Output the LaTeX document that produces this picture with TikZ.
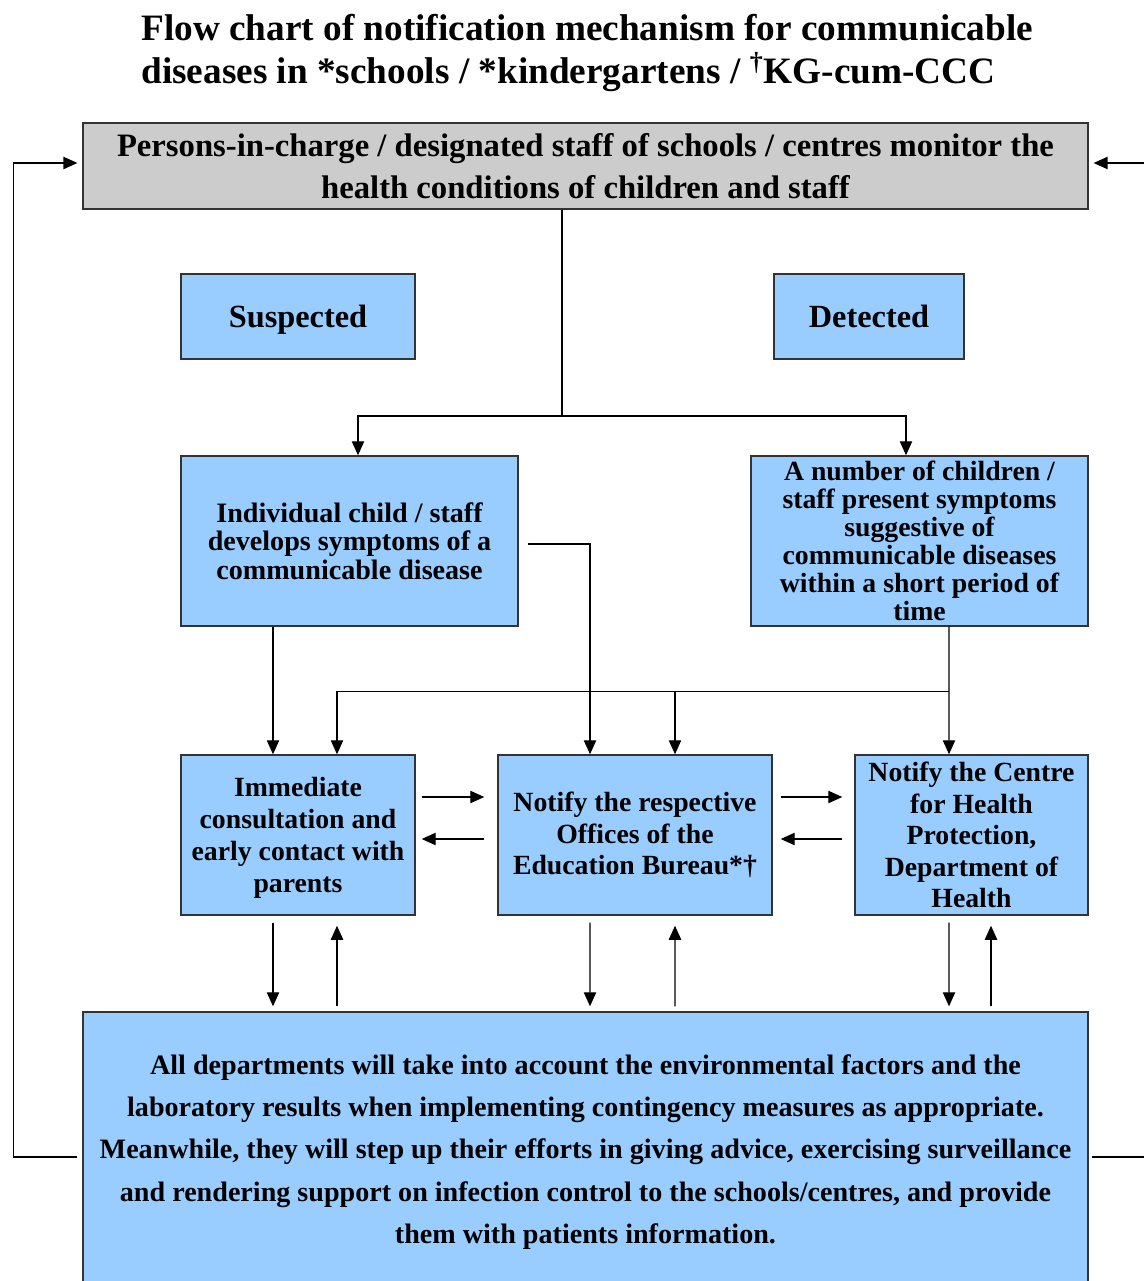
\documentclass[tikz,border=0pt]{standalone}
\usepackage{fontspec}
\setmainfont{Liberation Serif}
\usetikzlibrary{arrows.meta,calc}

\definecolor{boxblue}{HTML}{99CCFF}
\definecolor{boxgray}{HTML}{CCCCCC}

\tikzset{
  box/.style={draw=black!80, line width=0.8pt, fill=boxblue, align=center, inner sep=2pt},
  arr/.style={-{Triangle[length=8pt,width=7pt]}, line width=0.8pt},
  link/.style={line width=0.8pt},
}

\begin{document}
\begin{tikzpicture}[x=0.02cm, y=-0.02cm]
    \useasboundingbox (0,0) rectangle (1143,1281);

    % Title
    \node[anchor=west, align=left, inner sep=0pt, font=\fontsize{21.2}{24.4}\selectfont\bfseries] (title) at (141,53)
        {Flow chart of notification mechanism for communicable\\diseases in *schools / *kindergartens / \textsuperscript{†}KG-cum-CCC};

    % Monitoring box
    \node[box, fill=boxgray, minimum width=20.1cm, minimum height=1.72cm, font=\fontsize{18.6}{23.8}\selectfont\bfseries] (top) at (585.5,166)
        {Persons-in-charge / designated staff of schools / centres monitor the\\health conditions of children and staff};

    % Suspected / detected labels
    \node[box, minimum width=4.68cm, minimum height=1.7cm, text depth=0pt, font=\fontsize{18.4}{22}\selectfont\bfseries] (susp) at (298,316.5) {Suspected};
    \node[box, minimum width=3.8cm, minimum height=1.7cm, text depth=0pt, font=\fontsize{18.4}{22}\selectfont\bfseries] (det) at (869,316.5) {Detected};

    % Cases
    \node[box, minimum width=6.74cm, minimum height=3.4cm, font=\fontsize{16}{16.2}\selectfont\bfseries] (indiv) at (349.5,541)
        {Individual child / staff\\develops symptoms of a\\communicable disease};
    \node[box, minimum width=6.74cm, minimum height=3.4cm, font=\fontsize{15.8}{16}\selectfont\bfseries] (group) at (919.5,541)
        {A number of children /\\staff present symptoms\\suggestive of\\communicable diseases\\within a short period of\\time};

    % Actions
    \node[box, minimum width=4.68cm, minimum height=3.2cm, text depth=0pt, font=\fontsize{15.8}{18.1}\selectfont\bfseries] (consult) at (298,835)
        {Immediate\\consultation and\\early contact with\\parents};
    \node[box, minimum width=5.48cm, minimum height=3.2cm, font=\fontsize{15.8}{18.1}\selectfont\bfseries] (edb) at (635,835)
        {Notify the respective\\Offices of the\\Education Bureau*†};
    \node[box, minimum width=4.66cm, minimum height=3.2cm, font=\fontsize{15.8}{17.9}\selectfont\bfseries] (chp) at (971.5,835)
        {Notify the Centre\\for Health\\Protection,\\Department of\\Health};

    % Follow-up by all departments
    \node[box, minimum width=20.1cm, minimum height=5.6cm, font=\fontsize{16}{24.1}\selectfont\bfseries] (dept) at (585.5,1152)
        {All departments will take into account the environmental factors and the\\
         laboratory results when implementing contingency measures as appropriate.\\
         Meanwhile, they will step up their efforts in giving advice, exercising surveillance\\
         and rendering support on infection control to the schools/centres, and provide\\
         them with patients information.};

    % Split below the monitoring box
    \coordinate (split) at (562,416);
    \draw[link] (top.south -| split) -- (split);
    \draw[arr] (split) -| ($(indiv.north)+(8.5,0)$);
    \draw[arr] (split) -| ($(group.north)+(-13.5,0)$);

    % Individual case
    \draw[arr] ($(indiv.south)+(-76.5,0)$) -- ($(consult.north)+(-25,0)$);
    \draw[arr] ($(indiv.east)+(9,3)$) -| ($(edb.north)+(-45,0)$);

    % Cluster of cases
    \coordinate (fork) at ($(group.south)+(29.5,65)$);
    \coordinate (edbin) at ($(edb.north)+(40,0)$);
    \draw[arr] ($(group.south)+(29.5,0)$) -- ($(chp.north)+(-22.5,0)$);
    \draw[arr] (fork) -| ($(consult.north)+(39,0)$);
    \draw[arr] (edbin |- fork) -- (edbin);

    % Between the action boxes
    \draw[arr] ($(consult.east)+(6,-38)$) -- ($(edb.west)+(-13,-38)$);
    \draw[arr] ($(edb.west)+(-13,4)$) -- ($(consult.east)+(6,4)$);
    \draw[arr] ($(edb.east)+(8,-38)$) -- ($(chp.west)+(-12,-38)$);
    \draw[arr] ($(chp.west)+(-12,4)$) -- ($(edb.east)+(8,4)$);

    % To and from the departments box
    \draw[arr] ($(consult.south)+(-25,7)$) -- ($(dept.north)+(-312.5,-5)$);
    \draw[arr] ($(dept.north)+(-248.5,-5)$) -- ($(consult.south)+(39,10)$);
    \draw[arr] ($(edb.south)+(-45,7)$) -- ($(dept.north)+(4.5,-5)$);
    \draw[arr] ($(dept.north)+(89.5,-5)$) -- ($(edb.south)+(40,10)$);
    \draw[arr] ($(chp.south)+(-22.5,7)$) -- ($(dept.north)+(363.5,-5)$);
    \draw[arr] ($(dept.north)+(405.5,-5)$) -- ($(chp.south)+(19.5,10)$);

    % Feedback to monitoring
    \draw[arr] ($(dept.west)+(-5,5)$) -| ($(top.west)+(-69,-3)$) -- ($(top.west)+(-5,-3)$);
    \draw[arr] ($(dept.east)+(3,5)$) -| ($(top.east)+(70,-3)$) -- ($(top.east)+(5,-3)$);
\end{tikzpicture}
\end{document}
